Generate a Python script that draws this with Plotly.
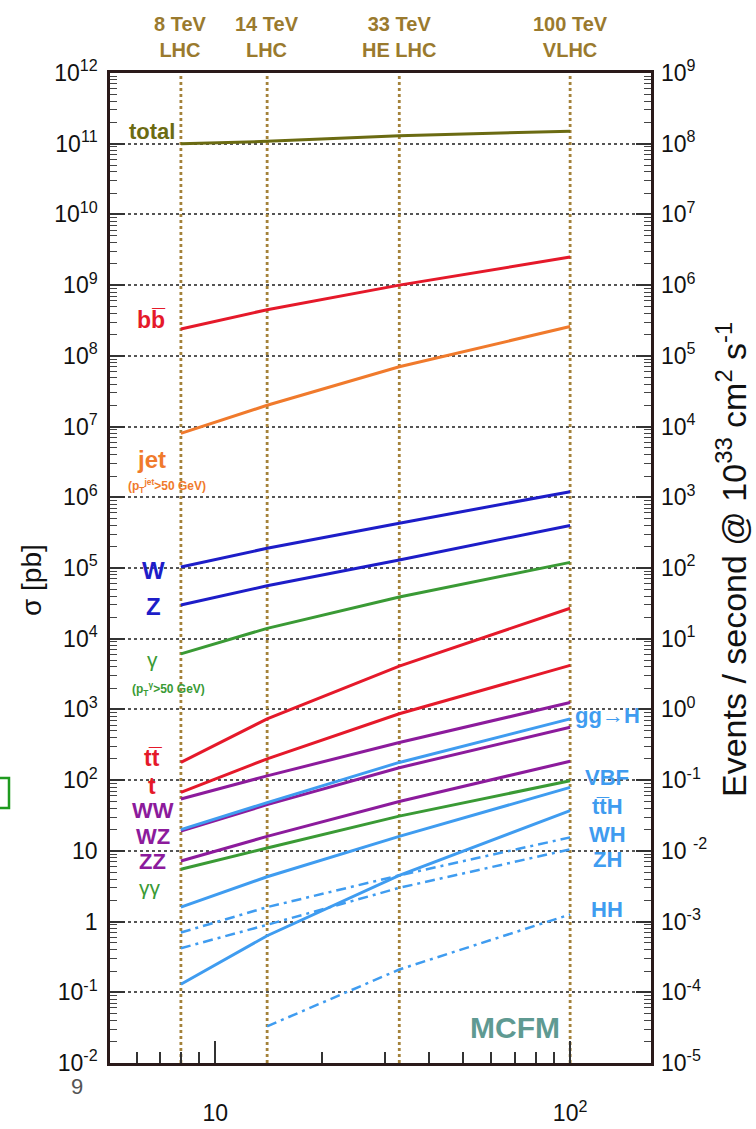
import numpy as np
import plotly.graph_objects as go

# ---------------- data ----------------
energies = [8, 14, 33, 100]          # sqrt(s) [TeV]
hh_energies = [14, 33, 100]
energy_labels = ["8 TeV<br>LHC", "14 TeV<br>LHC", "33 TeV<br>HE LHC", "100 TeV<br>VLHC"]

sigma_total = [1.0e11, 1.08e11, 1.3e11, 1.5e11]
sigma_bb = [2.4e8, 4.5e8, 1.0e9, 2.5e9]
sigma_jet = [8.0e6, 2.0e7, 7.0e7, 2.6e8]
sigma_W = [1.03e5, 1.9e5, 4.3e5, 1.2e6]
sigma_Z = [3.0e4, 5.6e4, 1.3e5, 4.0e5]
sigma_gamma = [6.1e3, 1.4e4, 3.9e4, 1.2e5]
sigma_tt = [178, 735, 4.1e3, 2.7e4]
sigma_t = [67, 200, 870, 4.2e3]
sigma_WW = [54, 115, 340, 1250]
sigma_WZ = [19, 45, 150, 560]
sigma_ZZ = [7.2, 16, 50, 185]
sigma_gg = [5.5, 11, 31, 98]
sigma_ggH = [20, 48, 178, 735]
sigma_VBF = [1.6, 4.3, 16, 79]
sigma_ttH = [0.13, 0.63, 4.5, 37]
sigma_WH = [0.7, 1.6, 4.5, 15.5]
sigma_ZH = [0.42, 0.9, 3.0, 10.5]
sigma_HH = [0.033, 0.21, 1.26]

left_exps = list(range(-2, 13))
left_ticktext = ["1" if e == 0 else "10" if e == 1 else f"10<sup>{e}</sup>" for e in left_exps]
right_exps = list(range(-5, 10))
right_ticktext = [("10 <sup>-2</sup>" if e == -2 else f"10<sup>{e}</sup>") for e in right_exps]
x_tickvals = [10, 100]
x_ticktext = ["10", "10<sup>2</sup>"]

# ---------------- style ----------------
W_FIG, H_FIG = 756, 1129
L, R, T, B = 110, 105, 73, 66
PW, PH = W_FIG - L - R, H_FIG - T - B
FONT = "Liberation Sans, Arial, Helvetica, sans-serif"
C_TOTAL = "#6b6b12"
C_RED = "#e5192a"
C_ORANGE = "#f07a2c"
C_BLUE = "#1d1dc8"
C_GREEN = "#3a9a35"
C_PURPLE = "#8c1b9c"
C_LBLUE = "#3f9cf0"
C_ENERGY = "#a4823a"
C_TEXT_E = "#9a7a2e"


def px(x):
    return (x - L) / PW


def py(y):
    return (H_FIG - B - y) / PH


fig = go.Figure()

Y_MIN, Y_MAX = 1e-2, 1e12
for e in energies:
    fig.add_trace(go.Scatter(x=[e, e], y=[Y_MIN, Y_MAX], mode="lines",
                             line=dict(color=C_ENERGY, width=2.8, dash="dot"),
                             hoverinfo="skip", showlegend=False))


def curve(xs, ys, color, dash="solid", width=3):
    fig.add_trace(go.Scatter(x=xs, y=ys, mode="lines",
                             line=dict(color=color, width=width, dash=dash),
                             showlegend=False))


DD = "10px,5px,3px,5px"
curve(energies, sigma_total, C_TOTAL)
curve(energies, sigma_bb, C_RED)
curve(energies, sigma_jet, C_ORANGE)
curve(energies, sigma_W, C_BLUE)
curve(energies, sigma_Z, C_BLUE)
curve(energies, sigma_gamma, C_GREEN)
curve(energies, sigma_tt, C_RED)
curve(energies, sigma_t, C_RED)
curve(energies, sigma_WW, C_PURPLE)
curve(energies, sigma_WZ, C_PURPLE)
curve(energies, sigma_ZZ, C_PURPLE)
curve(energies, sigma_gg, C_GREEN)
curve(energies, sigma_ggH, C_LBLUE)
curve(energies, sigma_VBF, C_LBLUE)
curve(energies, sigma_ttH, C_LBLUE)
curve(energies, sigma_WH, C_LBLUE, DD, 2.5)
curve(energies, sigma_ZH, C_LBLUE, DD, 2.5)
curve(hh_energies, sigma_HH, C_LBLUE, DD, 2.5)

# invisible trace to carry the event-rate axis (sigma[pb] * 1e-3 = events/s at 1e33)
fig.add_trace(go.Scatter(x=energies, y=[s * 1e-3 for s in sigma_total], yaxis="y2",
                         mode="lines", line=dict(width=0, color="rgba(0,0,0,0)"),
                         hoverinfo="skip", showlegend=False))

ann = []


def label(text, x, y, color, size=22, bold=True, xanchor="center", family=FONT):
    ann.append(dict(text=text, x=px(x), y=py(y), xref="paper", yref="paper",
                    xanchor=xanchor, yanchor="middle", showarrow=False,
                    font=dict(family=family, size=size, color=color,
                              weight="bold" if bold else "normal")))


# energy headers
for e, t in zip(energies, energy_labels):
    ann.append(dict(text=t, x=np.log10(e), y=py(37), xref="x", yref="paper",
                    xanchor="center", yanchor="middle", showarrow=False,
                    font=dict(family=FONT, size=20, color=C_TEXT_E, weight="bold")))

# left process labels
label("total", 177, 131, C_TOTAL, 22, xanchor="right")
label("bb\u0305", 168, 320, C_RED, 23, xanchor="right")
label("jet", 168, 460, C_ORANGE, 24, xanchor="right")
label("(p<sub>T</sub><sup>jet</sup>>50 GeV)", 167, 486, C_ORANGE, 12)
label("W", 153, 570, C_BLUE, 24)
label("Z", 153, 607, C_BLUE, 24)
label("γ", 152, 660, C_GREEN, 21, bold=False)
label("(p<sub>T</sub><sup>γ</sup>>50 GeV)", 168, 689, C_GREEN, 12)
label("tt\u0305", 153, 758, C_RED, 23)
label("t", 152, 786, C_RED, 23)
label("WW", 153, 810, C_PURPLE, 22)
label("WZ", 153, 836, C_PURPLE, 22)
label("ZZ", 152, 861, C_PURPLE, 22)
label("γγ", 150, 887, C_GREEN, 21, bold=False)

# right process labels
label("gg→H", 607, 715, C_LBLUE, 22)
label("VBF", 607, 777, C_LBLUE, 22)
label("tt\u0305H", 607, 806, C_LBLUE, 22)
label("WH", 607, 834, C_LBLUE, 22)
label("ZH", 607, 859, C_LBLUE, 22)
label("HH", 607, 909, C_LBLUE, 22)

label("MCFM", 515, 1027, "#5f9a92", 30)

# axis titles
ann.append(dict(text="σ [pb]", x=px(31), y=py(580), xref="paper", yref="paper",
                textangle=-90, showarrow=False, xanchor="center", yanchor="middle",
                font=dict(family=FONT, size=28, color="#111")))
ann.append(dict(text="Events / second @ 10<sup>33</sup> cm<sup>2</sup> s<sup>-1</sup>",
                x=px(731), y=py(560), xref="paper", yref="paper",
                textangle=-90, showarrow=False, xanchor="center", yanchor="middle",
                font=dict(family=FONT, size=34, color="#111")))
label("9", 77, 1086, "#555", 22, bold=False)

fig.update_layout(annotations=ann)

# green box artifact at left edge
fig.add_shape(type="rect", xref="paper", yref="paper", x0=px(-4), x1=px(9),
              y0=py(808), y1=py(778), line=dict(color="#1f9a1f", width=2.5))

axis_common = dict(showline=True, linecolor="#2a1a1a", linewidth=2.5)

fig.update_layout(
    width=W_FIG, height=H_FIG,
    margin=dict(l=L, r=R, t=T, b=B, autoexpand=False),
    paper_bgcolor="white", plot_bgcolor="white",
    font=dict(family=FONT, size=22, color="#111"),
    xaxis=dict(type="log", range=[np.log10(5.05), np.log10(169)],
               tickmode="array", tickvals=x_tickvals, ticktext=x_ticktext,
               ticks="inside", ticklen=22, tickwidth=1.5, tickcolor="#333",
               minor=dict(ticks="inside", ticklen=11, tickwidth=1.5, tickcolor="#333",
                          dtick="D1", showgrid=False),
               ticklabelstandoff=28, showgrid=False, zeroline=False,
               mirror=True, tickfont=dict(size=23, color="#111"),
               automargin=False, **axis_common),
    yaxis=dict(type="log", range=[-2, 12],
               tickmode="array", tickvals=[10.0 ** e for e in left_exps],
               ticktext=left_ticktext,
               ticks="inside", ticklen=15, tickwidth=1.5, tickcolor="#333",
               minor=dict(ticks="inside", ticklen=7, tickwidth=1, tickcolor="#444",
                          dtick="D1", showgrid=False),
               showgrid=True, gridcolor="#555", gridwidth=1.5, griddash="dot",
               zeroline=False, mirror=True, tickfont=dict(size=23, color="#111"),
               ticklabelstandoff=5,
               automargin=False, **axis_common),
    yaxis2=dict(type="log", range=[-5, 9], overlaying="y", side="right",
                tickmode="array", tickvals=[10.0 ** e for e in right_exps],
                ticktext=right_ticktext,
                ticks="inside", ticklen=15, tickwidth=1.5, tickcolor="#333",
                minor=dict(ticks="inside", ticklen=7, tickwidth=1, tickcolor="#444",
                           dtick="D1", showgrid=False),
                showgrid=False, zeroline=False, showline=False,
                ticklabelstandoff=9,
                tickfont=dict(size=23, color="#111"), automargin=False),
)

fig.write_html("out.html")
